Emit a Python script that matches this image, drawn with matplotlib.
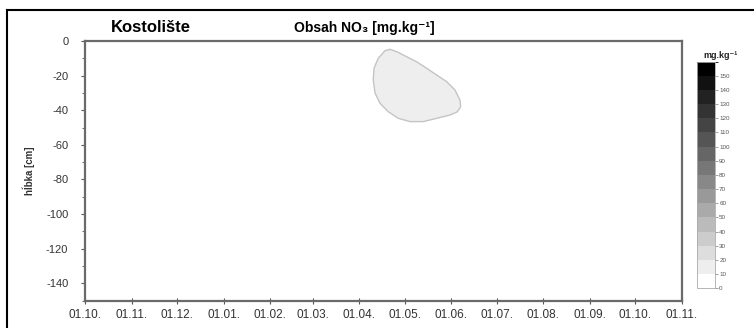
"""NO3 content vs depth and time at Kostolište (contour section)."""

import datetime as dt

import matplotlib.dates as mdates
import matplotlib.pyplot as plt
import numpy as np
from matplotlib.colors import BoundaryNorm, ListedColormap
from matplotlib.lines import Line2D

plt.rcParams['font.family'] = ['Liberation Sans', 'DejaVu Sans']
plt.rcParams['axes.unicode_minus'] = False

# Data
start_date = dt.date(2010, 10, 1)
month_ticks = [dt.date(2010, 10, 1), dt.date(2010, 11, 1), dt.date(2010, 12, 1),
               dt.date(2011, 1, 1), dt.date(2011, 2, 1), dt.date(2011, 3, 1),
               dt.date(2011, 4, 1), dt.date(2011, 5, 1), dt.date(2011, 6, 1),
               dt.date(2011, 7, 1), dt.date(2011, 8, 1), dt.date(2011, 9, 1),
               dt.date(2011, 10, 1), dt.date(2011, 11, 1)]
month_labels = ['01.10.', '01.11.', '01.12.', '01.01.', '01.02.', '01.03.',
                '01.04.', '01.05.', '01.06.', '01.07.', '01.08.', '01.09.',
                '01.10.', '01.11.']
depth_ticks = [0, -20, -40, -60, -80, -100, -120, -140]
levels = [0, 10, 20, 30, 40, 50, 60, 70, 80, 90, 100, 110, 120, 130, 140,
          150, 160]
cbar_ticks = [0, 10, 20, 30, 40, 50, 60, 70, 80, 90, 100, 110, 120, 130,
              140, 150]

# outline of the 10-20 mg/kg zone (days after 01.10., depth in cm)
blob_day = [199.0, 202.3, 206.8, 213.4, 220.0, 226.7, 233.3, 239.9, 245.4,
            248.7, 249.2, 247.0, 242.1, 233.3, 224.4, 215.6, 207.8, 201.2,
            195.7, 192.4, 191.2, 191.7, 194.5]
blob_depth = [-5.6, -4.8, -6.2, -9.1, -12.0, -15.8, -19.7, -23.5, -28.3,
              -34.1, -38.0, -40.9, -42.8, -44.7, -46.6, -46.6, -44.7, -40.9,
              -36.0, -30.2, -22.5, -15.8, -10.0]
blob_value = 15

# Grey scale: white at 0, black at 160
n_bands = len(levels) - 1
grey = np.linspace(1.0, 0.0, n_bands)
cmap = ListedColormap([(g, g, g) for g in grey])
norm = BoundaryNorm(levels, cmap.N)

W, H = 754, 328
fig = plt.figure(figsize=(W / 100, H / 100), dpi=100)
ax = fig.add_axes([85 / W, 1 - 300.5 / H, (682 - 85) / W, (300.5 - 41) / H])

x0 = mdates.date2num(start_date)
bx = [x0 + d for d in blob_day]
ax.fill(bx, blob_depth, facecolor=cmap(norm(blob_value)),
        edgecolor='#c4c4c4', linewidth=1.0)

ax.set_xlim(mdates.date2num(month_ticks[0]), mdates.date2num(month_ticks[-1]))
ax.set_ylim(-150, 0)
ax.set_xticks([mdates.date2num(d) for d in month_ticks])
ax.set_xticklabels(month_labels)
ax.set_yticks(depth_ticks)
ax.set_yticks(np.arange(-150, 1, 10), minor=True)
ax.tick_params(axis='x', direction='inout', length=4, width=0.8,
               colors='#555555', labelcolor='#333333', labelsize=8.5, pad=4)
ax.tick_params(axis='y', which='major', direction='out', length=3, width=0.8,
               colors='#555555', labelcolor='#333333', labelsize=8, pad=9)
ax.tick_params(axis='y', which='minor', direction='out', length=2, width=0.6,
               colors='#555555')
for s in ax.spines.values():
    s.set_color('#6a6a6a')
    s.set_linewidth(1.6)
ax.set_ylabel('hĺbka [cm]', fontsize=7, fontweight='bold', color='#333333',
              labelpad=8)

fig.text(151 / W, 1 - 28 / H, 'Kostolište', fontsize=12, fontweight='bold',
         ha='center', va='center')
fig.text(364 / W, 1 - 28 / H, 'Obsah NO₃ [mg.kg⁻¹]', fontsize=10,
         fontweight='bold', ha='center', va='center')

# Colour bar
cax = fig.add_axes([697 / W, 1 - 288.3 / H, 18 / W, (288.3 - 61.5) / H])
sm = plt.cm.ScalarMappable(norm=norm, cmap=cmap)
cb = fig.colorbar(sm, cax=cax, ticks=cbar_ticks)
cb.outline.set_edgecolor('#aaaaaa')
cb.outline.set_linewidth(0.6)
cax.tick_params(labelsize=4.5, length=2, width=0.5, colors='#777777',
                labelcolor='#555555', pad=1)
fig.text(720 / W, 1 - 55 / H, 'mg.kg⁻¹', fontsize=6.5, fontweight='bold',
         ha='center', va='center', color='#222222')

# outer frame (cut at right and bottom edges)
fig.add_artist(Line2D([7 / W, 7 / W], [0, 1 - 10 / H], color='black',
                      linewidth=1.5, transform=fig.transFigure))
fig.add_artist(Line2D([7 / W, 1], [1 - 10 / H, 1 - 10 / H], color='black',
                      linewidth=1.5, transform=fig.transFigure))

fig.savefig('out.png', dpi=100)
plt.close(fig)
